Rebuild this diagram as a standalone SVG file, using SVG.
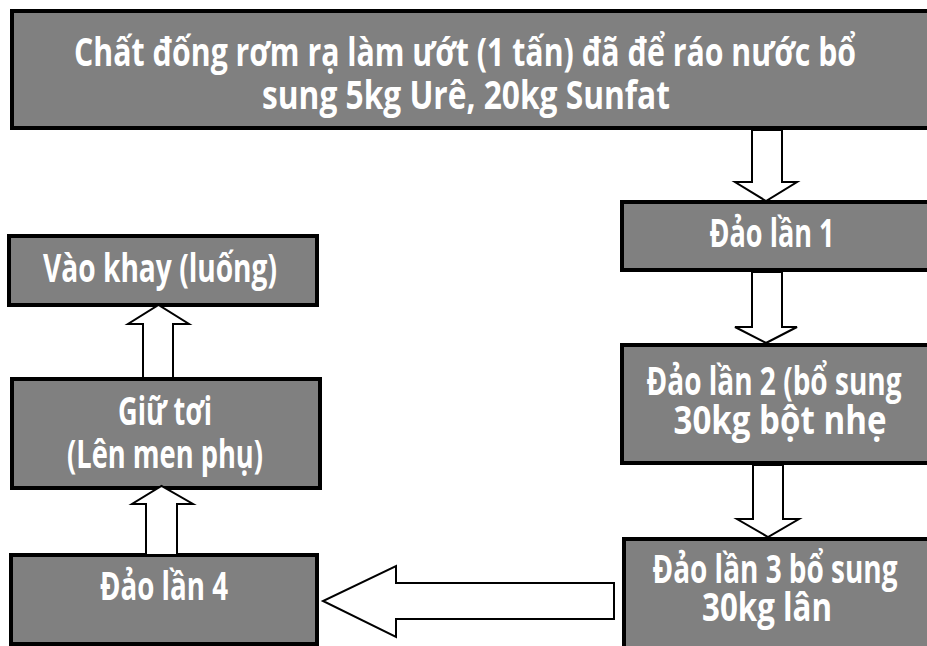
<svg xmlns="http://www.w3.org/2000/svg" width="927" height="646" viewBox="0 0 927 646">
<style>
.box{fill:#808080;stroke:#000;stroke-width:4}
.lbl{font-family:"Open Sans","Liberation Sans",sans-serif;font-weight:700;font-size:39px;fill:#fff;text-anchor:middle}
.arr{fill:#fff;stroke:#000;stroke-width:2;stroke-linejoin:miter}
</style>
<rect width="927" height="646" fill="#fff"/>
<g id="node-top">
<rect class="box" x="12" y="11" width="930" height="117"/>
<text class="lbl" x="465" y="66" textLength="782" lengthAdjust="spacingAndGlyphs">Chất đống rơm rạ làm ướt (1 tấn) đã để ráo nước bổ</text>
<text class="lbl" x="466" y="109" textLength="408" lengthAdjust="spacingAndGlyphs">sung 5kg Urê, 20kg Sunfat</text>
</g>
<g id="node-dao1">
<rect class="box" x="622" y="202" width="320" height="68"/>
<text class="lbl" x="772" y="247" textLength="125" lengthAdjust="spacingAndGlyphs">Đảo lần 1</text>
</g>
<g id="node-dao2">
<rect class="box" x="622" y="345" width="320" height="118"/>
<text class="lbl" x="774" y="395" textLength="255" lengthAdjust="spacingAndGlyphs">Đảo lần 2 (bổ sung</text>
<text class="lbl" x="780" y="434" textLength="213" lengthAdjust="spacingAndGlyphs">30kg bột nhẹ</text>
</g>
<g id="node-dao3">
<rect class="box" x="624" y="539" width="320" height="120"/>
<text class="lbl" x="775" y="583" textLength="245" lengthAdjust="spacingAndGlyphs">Đảo lần 3 bổ sung</text>
<text class="lbl" x="767" y="621" textLength="130" lengthAdjust="spacingAndGlyphs">30kg lân</text>
</g>
<g id="node-dao4">
<rect class="box" x="11" y="555" width="306" height="89"/>
<text class="lbl" x="164" y="600" textLength="128" lengthAdjust="spacingAndGlyphs">Đảo lần 4</text>
</g>
<g id="node-giutoi">
<rect class="box" x="12" y="379" width="308" height="109"/>
<text class="lbl" x="165" y="425" textLength="94" lengthAdjust="spacingAndGlyphs">Giữ tơi</text>
<text class="lbl" x="165" y="468" textLength="196" lengthAdjust="spacingAndGlyphs">(Lên men phụ)</text>
</g>
<g id="node-vaokhay">
<rect class="box" x="9" y="236" width="308" height="69"/>
<text class="lbl" x="160" y="282" textLength="234" lengthAdjust="spacingAndGlyphs">Vào khay (luống)</text>
</g>
<g id="connectors">
<polygon class="arr" points="752,130 782,130 782,182 797,182 766,201 735,182 752,182"/>
<polygon class="arr" points="752,272 782,272 782,327 797,327 766,343 735,327 752,327"/>
<polygon class="arr" points="753,465 783,465 783,519 799,519 768,537 737,519 753,519"/>
<polygon class="arr" points="146,555 177,555 177,504 193,504 161.5,486 132,504 146,504"/>
<polygon class="arr" points="143,378 173,378 173,324 189,324 158.5,305 128,324 143,324"/>
<polygon class="arr" points="614,583 614,619 396,619 396,637 323,601 396,566 396,583"/>
</g>
</svg>
